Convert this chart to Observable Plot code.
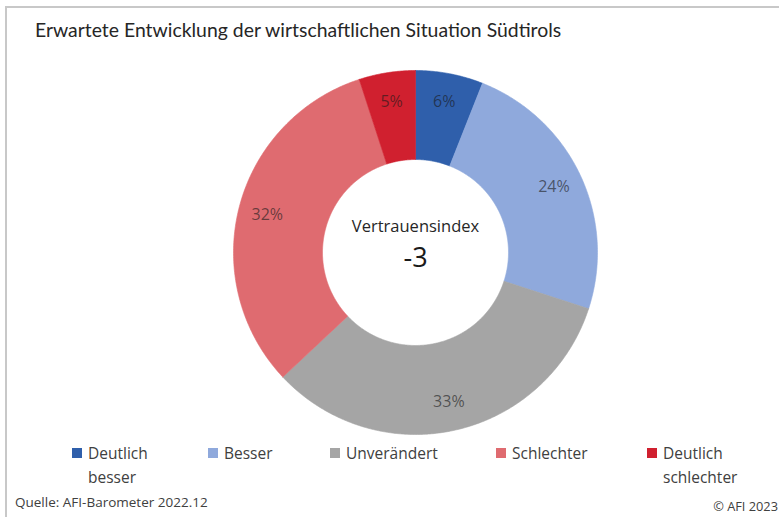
<!DOCTYPE html>
<html>
<head>
<meta charset="utf-8">
<script src="https://cdn.jsdelivr.net/npm/d3@7"></script>
<script src="https://cdn.jsdelivr.net/npm/@observablehq/plot@0.6"></script>
<style>
  html, body { margin: 0; padding: 0; background: #fff; }
  body { width: 779px; height: 517px; position: relative; overflow: hidden; font-family: "Open Sans", sans-serif; }
  #frame { position: absolute; left: 5px; top: 6px; right: -5px; bottom: -5px; border-left: 2px solid #c8c8c8; border-top: 2px solid #c8c8c8; }
  #title { position: absolute; left: 35px; top: 18px; font-family: Lato, sans-serif; font-size: 19.4px; color: #262626; white-space: nowrap; }
  #chart { position: absolute; left: 0; top: 60px; }
  .leg { position: absolute; font-size: 15.5px; color: #404040; line-height: 24px; }
  .sw { position: absolute; width: 10px; height: 10px; }
  #src { position: absolute; left: 15px; top: 493px; font-size: 13.5px; color: #404040; }
  #copy { position: absolute; right: 1px; top: 497px; font-size: 12.8px; color: #404040; }
</style>
</head>
<body>
<div id="frame"></div>
<div id="title"></div>
<div id="chart"></div>
<div id="legend"></div>
<div id="src"></div>
<div id="copy"></div>
<script>
const titleText = "Erwartete Entwicklung der wirtschaftlichen Situation Südtirols";
const categories = ["Deutlich besser", "Besser", "Unverändert", "Schlechter", "Deutlich schlechter"];
const legendLines = [["Deutlich", "besser"], ["Besser"], ["Unverändert"], ["Schlechter"], ["Deutlich", "schlechter"]];
const shares = [6, 24, 33, 32, 5];
const colors = ["#2f5fab", "#8fa9dc", "#a5a5a5", "#df6b70", "#d0202f"];
const centerLabel = "Vertrauensindex";
const indexValue = -3;
const sourceText = "Quelle: AFI-Barometer 2022.12";
const copyText = "© AFI 2023";

document.getElementById("title").textContent = titleText;
document.getElementById("src").textContent = sourceText;
document.getElementById("copy").textContent = copyText;

// geometry (pixel units)
const R_OUT = 182, R_IN = 93, R_LAB = 153;
const total = d3.sum(shares);
const polys = [];
const labels = [];
let acc = 0;
shares.forEach((v, i) => {
  const a0 = acc / total * 2 * Math.PI;
  acc += v;
  const a1 = acc / total * 2 * Math.PI;
  const n = Math.max(4, Math.ceil((a1 - a0) / (Math.PI / 360)));
  const pts = [];
  for (let k = 0; k <= n; k++) { const a = a0 + (a1 - a0) * k / n; pts.push([R_OUT * Math.sin(a), R_OUT * Math.cos(a)]); }
  for (let k = n; k >= 0; k--) { const a = a0 + (a1 - a0) * k / n; pts.push([R_IN * Math.sin(a), R_IN * Math.cos(a)]); }
  pts.push(pts[0]);
  pts.forEach(([x, y]) => polys.push({cat: categories[i], x, y}));
  const am = (a0 + a1) / 2;
  labels.push({x: R_LAB * Math.sin(am), y: R_LAB * Math.cos(am), text: v + "%"});
});

const W = 779, H = 380, CX = 415, CY = 192;
const plot = Plot.plot({
  width: W, height: H,
  margin: 0,
  x: {domain: [-CX, W - CX], axis: null},
  y: {domain: [-(H - CY), CY], axis: null},
  color: {domain: categories, range: colors},
  marks: [
    Plot.line(polys, {x: "x", y: "y", z: "cat", fill: "cat", stroke: "cat", strokeWidth: 0.6, curve: "linear"}),
    Plot.text(labels, {x: "x", y: "y", text: "text", fill: "#1a1a1a", fillOpacity: 0.62, fontSize: 16, fontFamily: "Open Sans, sans-serif"}),
    Plot.text([centerLabel], {x: () => 0, y: () => 0, text: d => d, dy: -26, fontSize: 16.5, fill: "#262626", fontFamily: "Open Sans, sans-serif"}),
    Plot.text([indexValue], {x: () => 0, y: () => 0, text: d => String(d), dy: 6, fontSize: 27, fill: "#1a1a1a", fontFamily: "Open Sans, sans-serif"})
  ]
});
document.getElementById("chart").appendChild(plot);

// legend
const legX = [72, 208, 330, 496, 647];
const leg = document.getElementById("legend");
categories.forEach((c, i) => {
  const sw = document.createElement("div");
  sw.className = "sw";
  sw.style.left = legX[i] + "px"; sw.style.top = "448px"; sw.style.background = colors[i];
  leg.appendChild(sw);
  const t = document.createElement("div");
  t.className = "leg";
  t.style.left = (legX[i] + 16) + "px"; t.style.top = "441px";
  t.innerHTML = legendLines[i].join("<br>");
  leg.appendChild(t);
});
</script>
</body>
</html>
